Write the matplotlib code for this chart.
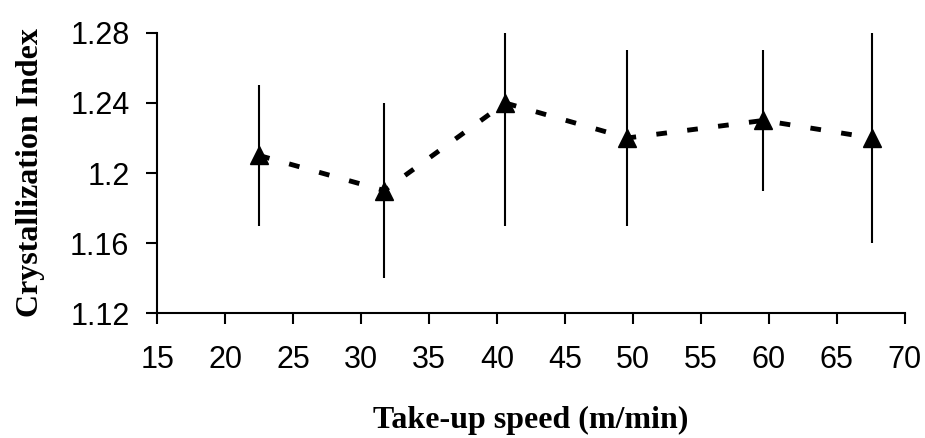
import matplotlib
matplotlib.use("Agg")
import matplotlib.pyplot as plt

speed = [22.5, 31.7, 40.6, 49.6, 59.6, 67.6]
crystallization = [1.21, 1.19, 1.24, 1.22, 1.23, 1.22]
err_low = [1.17, 1.14, 1.17, 1.17, 1.19, 1.16]
err_high = [1.25, 1.24, 1.285, 1.27, 1.27, 1.28]
xticks = [15, 20, 25, 30, 35, 40, 45, 50, 55, 60, 65, 70]
yticks = [1.12, 1.16, 1.20, 1.24, 1.28]
ytick_labels = ["1.12", "1.16", "1.2", "1.24", "1.28"]

fig = plt.figure(figsize=(9.25, 4.38), dpi=100)
ax = fig.add_axes([0.170, 0.285, 0.808, 0.640])

lower = [c - l for c, l in zip(crystallization, err_low)]
upper = [h - c for c, h in zip(crystallization, err_high)]
ax.errorbar(speed, crystallization, yerr=[lower, upper], fmt="none",
            ecolor="black", elinewidth=1.5, capsize=0, zorder=2)
ax.plot(speed, crystallization, color="black", linewidth=3.5,
        linestyle=(0, (2.2, 4.2)), zorder=3)
ax.plot(speed, crystallization, linestyle="none", marker="^", markersize=13,
        color="black", zorder=4)

ax.set_xlim(15, 70)
ax.set_ylim(1.12, 1.28)
ax.set_xticks(xticks)
ax.set_xticklabels([str(t) for t in xticks])
ax.set_yticks(yticks)
ax.set_yticklabels(ytick_labels)

for s in ["top", "right"]:
    ax.spines[s].set_visible(False)
for s in ["left", "bottom"]:
    ax.spines[s].set_linewidth(1.5)

ax.tick_params(axis="x", direction="out", length=8, width=1.5, pad=15,
               labelsize=22)
ax.tick_params(axis="y", direction="out", length=8, width=1.5, pad=12,
               labelsize=22)
for lab in ax.get_xticklabels() + ax.get_yticklabels():
    lab.set_family(["Liberation Sans", "DejaVu Sans"])

ax.set_xlabel("Take-up speed (m/min)", family=["Liberation Serif", "DejaVu Serif"],
              fontweight="bold", fontsize=23, labelpad=22)
ax.set_ylabel("Crystallization Index", family=["Liberation Serif", "DejaVu Serif"],
              fontweight="bold", fontsize=23, labelpad=18)

fig.savefig("out.png", dpi=100)
